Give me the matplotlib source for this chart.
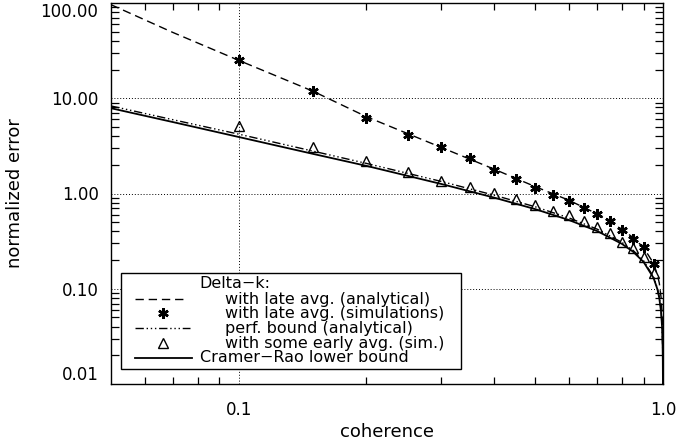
import numpy as np
import matplotlib.pyplot as plt
from matplotlib.ticker import FixedLocator, FixedFormatter, NullFormatter
from matplotlib.patches import Rectangle

# coherence grid for the curves
gam = [0.05, 0.07, 0.1, 0.15, 0.2, 0.3, 0.4, 0.5, 0.6, 0.7, 0.8, 0.85,
       0.9, 0.95, 0.97, 0.98, 0.99, 0.995, 0.998, 0.999, 0.9997, 0.9999]
late_analytical = [96, 49, 25, 11.8, 6.4, 3.05, 1.8, 1.18, 0.85, 0.61, 0.42, 0.345,
                   0.27, 0.185, 0.14, 0.115, 0.08, 0.056, 0.035, 0.025, 0.014, 0.008]
perf_bound = [8.3, 5.95, 4.2, 2.78, 2.07, 1.34, 0.96, 0.725, 0.555, 0.422, 0.307, 0.253,
              0.197, 0.133, 0.101, 0.0815, 0.057, 0.040, 0.0252, 0.0178, 0.0097, 0.0056]
crlb = [7.86, 5.62, 3.92, 2.6, 1.95, 1.26, 0.905, 0.685, 0.527, 0.403, 0.296, 0.245,
        0.191, 0.13, 0.099, 0.08, 0.0561, 0.0395, 0.0249, 0.0176, 0.0096, 0.0056]

# simulated points
gam_sim = [0.1, 0.15, 0.2, 0.25, 0.3, 0.35, 0.4, 0.45, 0.5, 0.55, 0.6,
           0.65, 0.7, 0.75, 0.8, 0.85, 0.9, 0.95]
late_sim = [25.1, 11.9, 6.26, 4.15, 3.07, 2.38, 1.75, 1.43, 1.15, 0.976, 0.844,
            0.71, 0.61, 0.51, 0.41, 0.33, 0.277, 0.18]
early_sim = [5.07, 3.07, 2.17, 1.68, 1.34, 1.16, 1.01, 0.865, 0.75, 0.65, 0.59,
             0.51, 0.445, 0.385, 0.31, 0.265, 0.217, 0.145]

yticks = [0.01, 0.1, 1, 10, 100]
ylabels = ['0.01', '0.10', '1.00', '10.00', '100.00']
xticks = [0.1, 1.0]
xlabels = ['0.1', '1.0']

fig = plt.figure(figsize=(6.76, 4.45), dpi=100)
ax = fig.add_axes([111/676, 61/445, 552/676, 381/445])
ax.set_xscale('log')
ax.set_yscale('log')

star = dict(marker=(6, 2, 0), ms=7.5, mew=1.8)
tri = dict(marker='^', ms=7, mfc='none', mew=1.0)
dash = (6, 3.5)
dash3dot = (6, 2, 1, 2, 1, 2, 1, 2)

ax.plot(gam, late_analytical, color='k', lw=1.0, dashes=dash)
ax.plot(gam_sim, late_sim, ls='none', color='k', **star)
ax.plot(gam, perf_bound, color='k', lw=1.0, dashes=dash3dot)
ax.plot(gam_sim, early_sim, ls='none', color='k', **tri)
ax.plot(gam, crlb, color='k', lw=1.3)

ax.set_xlim(0.05, 1.0)
ax.set_ylim(0.01, 100)

ax.xaxis.set_major_locator(FixedLocator(xticks))
ax.xaxis.set_major_formatter(FixedFormatter(xlabels))
ax.xaxis.set_minor_locator(FixedLocator([0.06, 0.07, 0.08, 0.09] + [i/10 for i in range(2, 10)]))
ax.xaxis.set_minor_formatter(NullFormatter())
ax.yaxis.set_major_locator(FixedLocator(yticks))
ax.yaxis.set_major_formatter(FixedFormatter(ylabels))
ax.yaxis.set_minor_locator(FixedLocator([m*d for d in [0.01, 0.1, 1, 10] for m in range(2, 10)]))
ax.yaxis.set_minor_formatter(NullFormatter())

ax.tick_params(which='major', length=0, labelsize=12)
ax.tick_params(axis='x', which='major', pad=12)
ax.tick_params(axis='y', which='major', pad=9)
ax.tick_params(which='minor', direction='in', top=True, right=True, length=5, width=0.9)
ax.tick_params(axis='y', which='minor', length=6)
ax.grid(which='major', color='k', ls=(0, (1, 2)), lw=0.7)
for s in ax.spines.values():
    s.set_linewidth(1.0)

ylab = ax.get_yticklabels()
ylab[0].set_va('bottom')
ylab[-1].set_va('top')

ax.set_xlabel('coherence', fontsize=13, va='center')
ax.set_ylabel('normalized error', fontsize=13, va='center')
ax.xaxis.set_label_coords(0.5, -0.125)
ax.yaxis.set_label_coords(-0.174, 0.5)

# legend box drawn by hand (IDL style)
T = ax.transAxes
ax.add_patch(Rectangle((0.018, 0.0386), 0.616, 0.2534, transform=T,
                       fill=True, facecolor='white', edgecolor='k', lw=1.0, zorder=5))
rows = [0.223, 0.186, 0.146, 0.107, 0.069]
fs = 11.5
ax.text(0.161, 0.264, 'Delta\u2212k:', transform=T, va='center', fontsize=fs, zorder=6)
ax.plot([0.0435, 0.134], [rows[0]]*2, transform=T, color='k', lw=1.0, dashes=dash, zorder=6)
ax.text(0.2065, rows[0], 'with late avg. (analytical)', transform=T, va='center', fontsize=fs, zorder=6)
ax.plot([0.094], [rows[1]], transform=T, color='k', zorder=6, **star)
ax.text(0.2065, rows[1], 'with late avg. (simulations)', transform=T, va='center', fontsize=fs, zorder=6)
ax.plot([0.0435, 0.143], [rows[2]]*2, transform=T, color='k', lw=1.0, dashes=dash3dot, zorder=6)
ax.text(0.2065, rows[2], 'perf. bound (analytical)', transform=T, va='center', fontsize=fs, zorder=6)
ax.plot([0.094], [rows[3]], transform=T, color='k', zorder=6, **tri)
ax.text(0.2065, rows[3], 'with some early avg. (sim.)', transform=T, va='center', fontsize=fs, zorder=6)
ax.plot([0.0435, 0.147], [rows[4]]*2, transform=T, color='k', lw=1.3, zorder=6)
ax.text(0.161, rows[4], 'Cramer\u2212Rao lower bound', transform=T, va='center', fontsize=fs, zorder=6)

fig.savefig('out.png', dpi=100)
